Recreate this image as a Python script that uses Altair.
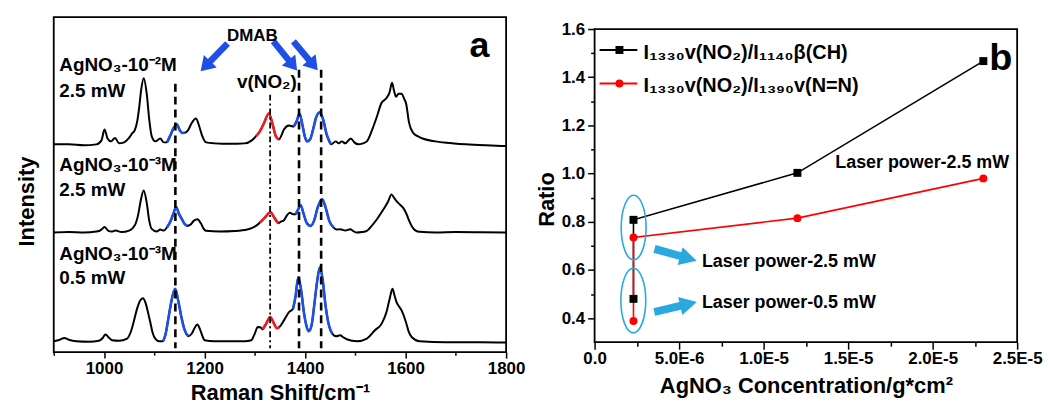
import altair as alt
import pandas as pd

FONT = "Liberation Sans"
BLUE = "#1f4fe6"
RED = "#ee1d23"
CYAN = "#2aa9e0"

# ---------------- Panel a: SERS spectra (intensity in arbitrary units) ----------------
s1_w = [900,930,960,985,995,1001,1007,1014,1022,1030,1040,1049,1056,1061,1066,1070,1074,1079,1085,1090,1095,1102,1112,1119,1125,1132,1139,1145,1151,1156,1161,1167,1174,1183,1189,1195,1203,1220,1250,1280,1294,1302,1310,1318,1328,1336,1342,1348,1353,1358,1368,1377,1383,1389,1395,1400,1404,1410,1416,1422,1429,1436,1443,1452,1461,1467,1473,1480,1491,1498,1506,1515,1523,1533,1543,1552,1562,1568,1573,1577,1581,1586,1592,1597,1601,1607,1615,1625,1635,1660,1681,1720,1760,1800]
s1_i = [1,1,0,1,5,16,7,4,7.5,2,3,7,12,15,24,38,56,67.6,52,26,9,4,7,3,3,10,18,21,15,12.5,12.6,15,22,27,20,10,3,2,1.5,2,5,9,14,22,32,20,9,6,10,16,20,19,24,32,20,8,4,6,16,28,33,26,11,1,4,2,4,2,7,3,1,2,4,15,29,42.6,47.6,53,63,55,49,52,52,47,42,22.6,12.6,9,6.6,4,2.6,1,0,-0.7]

s2_w = [900,930,960,985,995,1001,1008,1015,1023,1035,1050,1062,1068,1073,1079,1085,1090,1095,1105,1112,1119,1125,1132,1138,1143.5,1149,1155,1160,1166,1172,1179,1186,1193,1198,1203,1230,1260,1285,1296,1303,1310,1320,1331,1340,1347,1352,1358,1365,1370,1376,1381,1386,1391,1397,1403,1411,1418,1425,1434,1441,1448,1457,1463,1470,1480,1490,1496,1503,1513,1523,1533,1543,1556,1565,1572,1577,1582,1589,1595,1602,1607,1612,1620,1628,1660,1700,1750,1800]
s2_i = [0,0.5,0,1,3,5.7,2,1,2,0.5,2,8,18,32,42.4,30,12,3.7,1,3,2,5,11,19,25.7,19,13.4,9,6.7,8,12,13.4,9,4,1.7,1,1.5,3,5,7,10,15,20.5,14,9.4,11,12.4,18,20,18.4,18.4,23,27.7,19,10,6.7,12,25,33.4,25,12,5,3,3.4,2,3.4,1.5,0,0.5,1.7,7,13.4,23.4,31,38.4,35,31.7,28,25,18.4,12,6.7,2,0.7,0,0.5,0.3,0]

s3_w = [900,912,921,930,945,970,990,997,1003,1009,1016,1030,1046,1053,1059,1066,1072,1077.5,1083,1088,1092,1097,1102,1110,1117,1122,1128,1134,1141.5,1148,1154.6,1160,1168,1175,1180,1185.6,1191,1196,1200,1220,1250,1280,1293,1300,1306,1311,1315,1322,1330.5,1338,1344,1349,1358,1368,1376,1381,1386.5,1392,1398,1403,1407.5,1413,1418,1424,1429.5,1435,1441,1447,1454,1462,1470,1476,1483,1503,1523,1539,1552.5,1562,1568,1574,1578,1582,1587,1592,1600.6,1606,1612,1628,1680,1750,1800]
s3_i = [0,1.5,3.3,1.5,0,-0.5,0.5,3,6.7,4,1,0.5,2.7,9,19.3,33,41,43.3,38,28,19.3,8,2.7,0,0,6,22.7,40,52.7,40,22.7,12,5,8,13,16.7,12,5,1,0,0,0,1,7.7,14.3,14,12,17,24.3,18,13,14.3,21,29.3,32.7,45,64.3,52,28,15,10,16,35,60,74.3,62,35,17,7.7,5,6,4,2,0,2.7,11,17.7,29.3,42,52.7,46,39.3,35,31,19.3,10,4.3,0,-1,-1,-1.3]

spec_offsets = [208, 120.3, 11]
# highlighted bands (colour, from, to) for each spectrum
spec_bands = [
    [("blue", 1125, 1161), ("red", 1302, 1348), ("blue", 1377, 1452)],
    [("blue", 1125, 1166), ("red", 1310, 1347), ("blue", 1381, 1457)],
    [("blue", 1117, 1168), ("red", 1315, 1349), ("blue", 1376, 1454)],
]

# marker lines at band positions
vline_w = [1142, 1388, 1432]
vline_top = [270, 284, 284]
vdot_w = [1330.5]
vdot_top = [259]
vline_bottom = 4

# labels panel a
lab_a_text = ["AgNO₃-10⁻²M", "2.5 mW", "AgNO₃-10⁻³M", "2.5 mW", "AgNO₃-10⁻³M", "0.5 mW"]
lab_a_w = [911, 911, 911, 911, 911, 911]
lab_a_y = [283, 257, 182, 157, 93, 68.7]
cen_a_text = ["DMAB", "v(NO₂)", "a"]
cen_a_w = [1295, 1324, 1747]
cen_a_y = [313, 266, 297]
cen_a_size = [17, 19, 36]

# blue arrows (centre, direction in degrees clockwise, length in px)
arr_a_w = [1219, 1360.5, 1401]
arr_a_y = [296.5, 298, 298]
arr_a_ang = [134, 51, 50]
arr_a_len = [39, 38, 38]

a_ticks = [900, 1000, 1100, 1200, 1300, 1400, 1500, 1600, 1700, 1800]

# ---------------- Panel b: ratios ----------------
conc = [2.3e-6, 2.3e-6, 1.2e-5, 2.3e-5]
ratio_ch = [0.48, 0.808, 1.003, 1.467]
ratio_nn = [0.388, 0.735, 0.815, 0.98]
leg_text = ["I₁₃₃₀v(NO₂)/I₁₁₄₀β(CH)", "I₁₃₃₀v(NO₂)/I₁₃₉₀v(N=N)"]
leg_y_sym = [1.513, 1.374]
leg_y_txt = [1.475, 1.337]
leg_x0, leg_x1, leg_xm, leg_xt = 2.94e-7, 2.53e-6, 1.47e-6, 2.9e-6

b_text = ["Laser power-2.5 mW", "Laser power-2.5 mW", "Laser power-0.5 mW"]
b_text_c = [1.424e-5, 6.35e-6, 6.35e-6]
b_text_r = [1.0235, 0.6137, 0.4416]
ell_c = [2.31e-6, 2.29e-6]
ell_r = [0.776, 0.473]
carr_c = [4.79e-6, 4.79e-6]
carr_r = [0.663, 0.446]
carr_ang = [15.6, 347]
carr_len = [44, 44]

b_xticks = [0, 2.5e-6, 5e-6, 7.5e-6, 1e-5, 1.25e-5, 1.5e-5, 1.75e-5, 2e-5, 2.25e-5, 2.5e-5]
b_yticks = [0.4, 0.5, 0.6, 0.7, 0.8, 0.9, 1.0, 1.1, 1.2, 1.3, 1.4, 1.5, 1.6]

# ---------------- build tables ----------------
rows = []
for sid, (ws, vs) in enumerate([(s1_w, s1_i), (s2_w, s2_i), (s3_w, s3_i)]):
    for k, (w, v) in enumerate(zip(ws, vs)):
        seg, key = "none", ""
        for j, (c, lo, hi) in enumerate(spec_bands[sid]):
            if lo <= w <= hi:
                seg, key = c, f"{sid}-{j}"
        rows.append(dict(spec=sid, idx=k, w=w, y=v + spec_offsets[sid], seg=seg, key=key))
df_spec = pd.DataFrame(rows)
df_blue = df_spec[df_spec.seg == "blue"]
df_red = df_spec[df_spec.seg == "red"]

df_vl = pd.DataFrame(dict(w=vline_w, y=vline_top, y2=[vline_bottom] * len(vline_w)))
df_vd = pd.DataFrame(dict(w=vdot_w, y=vdot_top, y2=[vline_bottom] * len(vdot_w)))
df_la = pd.DataFrame(dict(w=lab_a_w, y=lab_a_y, t=lab_a_text))
df_ca = pd.DataFrame(dict(w=cen_a_w, y=cen_a_y, t=cen_a_text, fs=cen_a_size))
df_aa = pd.DataFrame(dict(w=arr_a_w, y=arr_a_y, ang=arr_a_ang, sz=[l * l for l in arr_a_len]))

ARROW_A = "M-1,-0.17L0.28,-0.17L0.28,-0.46L1,0L0.28,0.46L0.28,0.17L-1,0.17Z"
ARROW_B = "M-1,-0.18L0.22,-0.18L0.22,-0.42L1,0L0.22,0.42L0.22,0.18L-1,0.18Z"
ELLIPSE = "M0,-1A0.385,1,0,1,1,0,1A0.385,1,0,1,1,0,-1Z"

xa = alt.X("w:Q", scale=alt.Scale(domain=[900, 1800], nice=False, zero=False),
           axis=alt.Axis(values=a_ticks, format="d", labelFlush=False,
                         labelExpr="datum.value % 200 === 0 ? datum.label : ''",
                         tickSize={"condition": {"test": "datum.value % 200 === 0", "value": 6}, "value": 3},
                         labelPadding=2, titlePadding=7, title="Raman Shift/cm⁻¹"))
ya = alt.Y("y:Q", scale=alt.Scale(domain=[0, 337], nice=False, zero=False),
           axis=alt.Axis(labels=False, ticks=False, title="Intensity", titlePadding=15,
                         titleY=185, minExtent=0))

base_line = alt.Chart(df_spec).mark_line(color="black", strokeWidth=2, interpolate="monotone").encode(
    x=xa, y=ya, detail="spec:N", order="idx:Q")
blue_line = alt.Chart(df_blue).mark_line(color=BLUE, strokeWidth=2.6, interpolate="monotone").encode(
    x=xa, y=ya, detail="key:N", order="idx:Q")
red_line = alt.Chart(df_red).mark_line(color=RED, strokeWidth=2.6, interpolate="monotone").encode(
    x=xa, y=ya, detail="key:N", order="idx:Q")
vl = alt.Chart(df_vl).mark_rule(color="black", strokeWidth=2.6, strokeDash=[8, 5]).encode(
    x=xa, y=ya, y2="y2:Q")
vd = alt.Chart(df_vd).mark_rule(color="black", strokeWidth=1.8, strokeDash=[6, 3, 2, 3]).encode(
    x=xa, y=ya, y2="y2:Q")
lab_a = alt.Chart(df_la).mark_text(align="left", baseline="alphabetic", font=FONT, fontWeight="bold",
                                   fontSize=19, color="black").encode(x=xa, y=ya, text="t:N")
cen_a = alt.Chart(df_ca).mark_text(align="center", baseline="alphabetic", font=FONT, fontWeight="bold",
                                   color="black").encode(x=xa, y=ya, text="t:N",
                                                         size=alt.Size("fs:Q", scale=None))
arr_a = alt.Chart(df_aa).mark_point(shape=ARROW_A, filled=True, color=BLUE, opacity=1, strokeWidth=0).encode(
    x=xa, y=ya, angle=alt.Angle("ang:Q", scale=None), size=alt.Size("sz:Q", scale=None))

panel_a = alt.layer(base_line, blue_line, red_line, vl, vd, arr_a, lab_a, cen_a).properties(width=455, height=337)

# ---------- panel b ----------
df_ch = pd.DataFrame(dict(idx=range(len(conc)), c=conc, r=ratio_ch))
df_nn = pd.DataFrame(dict(idx=range(len(conc)), c=conc, r=ratio_nn))
df_leg_ch = pd.DataFrame(dict(c=[leg_x0], c2=[leg_x1], cm=[leg_xm], r=[leg_y_sym[0]]))
df_leg_nn = pd.DataFrame(dict(c=[leg_x0], c2=[leg_x1], cm=[leg_xm], r=[leg_y_sym[1]]))
df_legt = pd.DataFrame(dict(c=[leg_xt] * 2, r=leg_y_txt, t=leg_text))
df_bt = pd.DataFrame(dict(c=b_text_c, r=b_text_r, t=b_text))
df_ell = pd.DataFrame(dict(c=ell_c, r=ell_r))
df_carr = pd.DataFrame(dict(c=carr_c, r=carr_r, ang=carr_ang, sz=[l * l for l in carr_len]))
df_lbl = pd.DataFrame(dict(c=[2.403e-5], r=[1.4308], t=["b"]))

sc_xb = alt.Scale(domain=[0, 2.5e-5], nice=False, zero=False)
sc_yb = alt.Scale(domain=[0.3, 1.6], nice=False, zero=False)
xb = alt.X("c:Q", scale=sc_xb,
           axis=alt.Axis(values=b_xticks, labelFlush=False,
                         labelExpr="round(datum.value / 2.5e-6) % 2 !== 0 ? '' : (datum.value === 0 ? '0.0' : upper(format(datum.value, '.1e')))",
                         tickSize={"condition": {"test": "round(datum.value / 2.5e-6) % 2 === 0", "value": 7}, "value": 4},
                         labelPadding=1, titlePadding=10, title="AgNO₃ Concentration/g*cm²"))
yb = alt.Y("r:Q", scale=sc_yb,
           axis=alt.Axis(values=b_yticks, labelFlush=False,
                         labelExpr="round(datum.value * 10) % 2 !== 0 ? '' : format(datum.value, '.1f')",
                         tickSize={"condition": {"test": "round(datum.value * 10) % 2 === 0", "value": 7}, "value": 4},
                         labelPadding=3, titlePadding=3, titleY=171, title="Ratio"))

line_ch = alt.Chart(df_ch).mark_line(color="black", strokeWidth=1.6).encode(x=xb, y=yb, order="idx:Q")
line_nn = alt.Chart(df_nn).mark_line(color="#ff0000", strokeWidth=1.6).encode(x=xb, y=yb, order="idx:Q")
pts_ch = alt.Chart(df_ch).mark_point(shape="square", filled=True, size=64, opacity=1, color="black").encode(x=xb, y=yb)
pts_nn = alt.Chart(df_nn).mark_point(shape="circle", filled=True, size=64, opacity=1, color="#ff0000").encode(x=xb, y=yb)
legl_ch = alt.Chart(df_leg_ch).mark_rule(strokeWidth=2, color="black").encode(x=xb, x2="c2:Q", y=yb)
legl_nn = alt.Chart(df_leg_nn).mark_rule(strokeWidth=2, color="#ff0000").encode(x=xb, x2="c2:Q", y=yb)
legp_ch = alt.Chart(df_leg_ch).mark_point(shape="square", filled=True, size=64, opacity=1, color="black").encode(
    x=alt.X("cm:Q", scale=sc_xb), y=yb)
legp_nn = alt.Chart(df_leg_nn).mark_point(shape="circle", filled=True, size=64, opacity=1, color="#ff0000").encode(
    x=alt.X("cm:Q", scale=sc_xb), y=yb)
leg_txt = alt.Chart(df_legt).mark_text(align="left", baseline="alphabetic", font=FONT, fontWeight="bold",
                                       fontSize=20, color="black").encode(x=xb, y=yb, text="t:N")
txt_b = alt.Chart(df_bt).mark_text(align="left", baseline="alphabetic", font=FONT, fontWeight="bold",
                                   fontSize=18, color="black").encode(x=xb, y=yb, text="t:N")
ell_b = alt.Chart(df_ell).mark_point(shape=ELLIPSE, filled=False, color=CYAN, strokeWidth=1.6, size=4225,
                                     opacity=1).encode(x=xb, y=yb)
carr_b = alt.Chart(df_carr).mark_point(shape=ARROW_B, filled=True, color=CYAN, opacity=1, strokeWidth=0).encode(
    x=xb, y=yb, angle=alt.Angle("ang:Q", scale=None), size=alt.Size("sz:Q", scale=None))
lbl_b = alt.Chart(df_lbl).mark_text(align="center", baseline="alphabetic", font=FONT, fontWeight="bold",
                                    fontSize=38, color="black").encode(x=xb, y=yb, text="t:N")

panel_b = alt.layer(line_ch, line_nn, pts_ch, pts_nn, ell_b, carr_b, legl_ch, legl_nn, legp_ch, legp_nn,
                    leg_txt, txt_b, lbl_b).properties(width=425, height=315)

# empty strip that lowers panel b relative to panel a
spacer = alt.Chart(pd.DataFrame(dict(v=[0]))).mark_point(opacity=0, size=0, strokeWidth=0).encode(
    x=alt.X("v:Q", axis=None), y=alt.Y("v:Q", axis=None)
).properties(width=425, height=1, view=alt.ViewBackground(stroke="transparent"))

right = alt.vconcat(spacer, panel_b, spacing=0)

chart = alt.hconcat(panel_a, right, spacing=8).properties(
    padding={"left": 7, "top": 7, "right": 0, "bottom": 0}
).configure_view(stroke="black", strokeWidth=1.8).configure_axis(
    labelFont=FONT, labelFontWeight="bold", labelFontSize=17, labelColor="black",
    titleFont=FONT, titleFontWeight="bold", titleFontSize=22, titleColor="black",
    tickColor="black", tickWidth=1.5, grid=False, domain=False
)

chart.save("out.html", embed_options={"renderer": "svg", "actions": False})
